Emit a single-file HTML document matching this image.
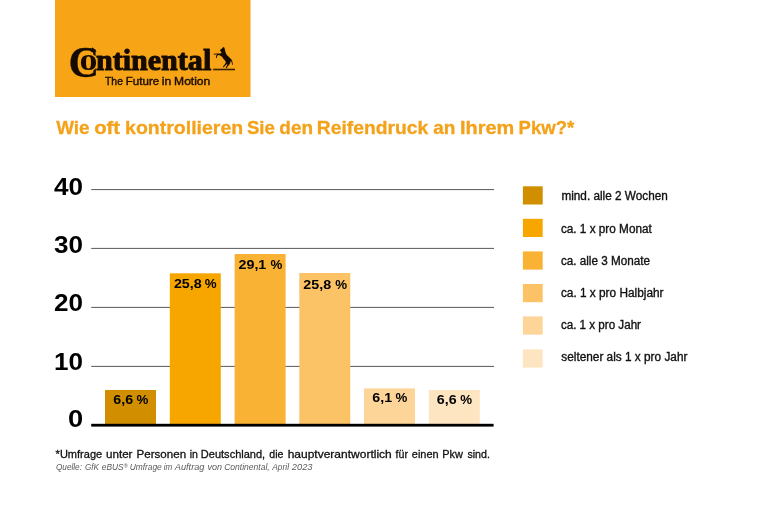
<!DOCTYPE html>
<html lang="de">
<head>
<meta charset="utf-8">
<title>Wie oft kontrollieren Sie den Reifendruck an Ihrem Pkw?</title>
<style>
html,body{margin:0;padding:0;background:#fff;}
body{width:768px;height:513px;overflow:hidden;font-family:"Liberation Sans",sans-serif;}
svg{display:block;}
.sans{font-family:"Liberation Sans",sans-serif;}
.serif{font-family:"Liberation Serif",serif;}
.b{font-weight:bold;}
</style>
</head>
<body>
<svg width="768" height="513" viewBox="0 0 768 513">
<rect x="0" y="0" width="768" height="513" fill="#ffffff"/>

<!-- logo box -->
<g id="logo">
<rect x="55" y="0" width="195.5" height="97" fill="#F7A516"/>
<text class="serif b" fill="#140a00" stroke="#140a00" stroke-linejoin="round"><tspan x="68.4" y="77.2" font-size="43.6" stroke-width="0.3" textLength="30.6" lengthAdjust="spacingAndGlyphs">C</tspan><tspan x="79.4" y="69.9" font-size="32" stroke="#F7A516" stroke-width="2.6" paint-order="stroke" textLength="18" lengthAdjust="spacingAndGlyphs">o</tspan><tspan x="95.9" y="69.5" font-size="30.2" stroke-width="1" textLength="115.4" lengthAdjust="spacingAndGlyphs">ntinental</tspan></text>
<path d="M92.3 47.2 L96.6 51.6 L91.2 52.2 Z" fill="#140a00"/>
<!-- horse -->
<g fill="#140a00">
<rect x="213.2" y="68.7" width="21.8" height="1.6" fill="#3a2200"/>
<path d="M223.3 47 L224.3 47.6 L225 50 L225.6 52.6 L226.6 54.8 L228.4 56.6 L230.4 58.4 L231.6 59.8 L232.2 61 L232.9 64.8 L232.3 64.9 L231.4 61.6 L230.9 60.8 L230.4 62.6 L229.4 64.4 L227.6 66.4 L226.6 68.2 L225.6 68 L226.6 66 L227.4 64.6 L226.6 64.2 L224.8 66 L223.6 67.4 L222.9 66.8 L224.6 64.6 L225.8 62.8 L225.4 61 L223.6 59 L221.8 56.6 L219.6 55.2 L218.2 55 L217.2 56 L216.8 57.9 L216 57.7 L216.2 55.6 L217.4 54.4 L213.7 54.5 L213.6 53.7 L217.6 53.5 L220.8 53.6 L221.6 52.6 L220.9 51.4 L219.9 50.5 L220.6 49.6 L222 48.6 Z"/>
</g>
<text id="tag" class="sans" y="84.6" font-size="10.6" fill="#1e0e00" stroke="#1e0e00" stroke-width="0.4"><tspan x="105.0" textLength="17.95" lengthAdjust="spacingAndGlyphs">The</tspan> <tspan x="125.83" textLength="33.35" lengthAdjust="spacingAndGlyphs">Future</tspan> <tspan x="161.88" textLength="9.49" lengthAdjust="spacingAndGlyphs">in</tspan> <tspan x="174.09" textLength="36.21" lengthAdjust="spacingAndGlyphs">Motion</tspan></text>
</g>

<!-- title -->
<text id="title" class="sans b" y="133.8" font-size="19" fill="#F4A21A" stroke="#F4A21A" stroke-width="0.3"><tspan x="56.21" textLength="33.33" lengthAdjust="spacingAndGlyphs">Wie</tspan> <tspan x="94.24" textLength="25.90" lengthAdjust="spacingAndGlyphs">oft</tspan> <tspan x="125.11" textLength="118.07" lengthAdjust="spacingAndGlyphs">kontrollieren</tspan> <tspan x="246.90" textLength="28.01" lengthAdjust="spacingAndGlyphs">Sie</tspan> <tspan x="279.32" textLength="33.72" lengthAdjust="spacingAndGlyphs">den</tspan> <tspan x="316.84" textLength="111.40" lengthAdjust="spacingAndGlyphs">Reifendruck</tspan> <tspan x="433.27" textLength="22.18" lengthAdjust="spacingAndGlyphs">an</tspan> <tspan x="459.95" textLength="54.30" lengthAdjust="spacingAndGlyphs">Ihrem</tspan> <tspan x="518.62" textLength="55.60" lengthAdjust="spacingAndGlyphs">Pkw?*</tspan></text>

<!-- grid -->
<g stroke="#505050" stroke-width="0.95">
<line x1="91.2" y1="189.6" x2="494" y2="189.6"/>
<line x1="91.2" y1="248.4" x2="494" y2="248.4"/>
<line x1="91.2" y1="307.4" x2="494" y2="307.4"/>
<line x1="91.2" y1="366.4" x2="494" y2="366.4"/>
</g>

<!-- y labels -->
<g class="sans b" font-size="23.5" fill="#000">
<text x="54" y="194.5" textLength="29" lengthAdjust="spacingAndGlyphs">40</text>
<text x="54" y="253.3" textLength="29" lengthAdjust="spacingAndGlyphs">30</text>
<text x="54" y="311.4" textLength="29" lengthAdjust="spacingAndGlyphs">20</text>
<text x="54" y="370.2" textLength="29" lengthAdjust="spacingAndGlyphs">10</text>
<text x="68.1" y="427" textLength="15.2" lengthAdjust="spacingAndGlyphs">0</text>
</g>

<!-- bars -->
<rect x="105" y="390" width="51" height="35" fill="#D18F00"/>
<rect x="169.8" y="273.3" width="51" height="152" fill="#F7A600"/>
<rect x="234.6" y="254" width="51" height="171" fill="#F9B233"/>
<rect x="299.3" y="273" width="51" height="152" fill="#FBC266"/>
<rect x="364" y="388.4" width="51" height="37" fill="#FDD599"/>
<rect x="428.8" y="390" width="51" height="35" fill="#FEE5C2"/>

<!-- axis -->
<rect x="91.2" y="423.8" width="402.4" height="2.8" fill="#000"/>

<!-- bar labels -->
<g class="sans b" font-size="13.3" fill="#000">
<text y="403.9"><tspan x="113.3" textLength="19.8" lengthAdjust="spacingAndGlyphs">6,6</tspan><tspan x="132.8"> %</tspan></text>
<text y="288.1"><tspan x="173.9" textLength="27.8" lengthAdjust="spacingAndGlyphs">25,8</tspan><tspan x="201.10000000000002"> %</tspan></text>
<text y="269.3"><tspan x="238.5" textLength="27.8" lengthAdjust="spacingAndGlyphs">29,1</tspan><tspan x="266.7"> %</tspan></text>
<text y="289.1"><tspan x="303.3" textLength="27.8" lengthAdjust="spacingAndGlyphs">25,8</tspan><tspan x="331.6"> %</tspan></text>
<text y="402.4"><tspan x="372.3" textLength="19.8" lengthAdjust="spacingAndGlyphs">6,1</tspan><tspan x="391.8"> %</tspan></text>
<text y="403.8"><tspan x="436.8" textLength="19.8" lengthAdjust="spacingAndGlyphs">6,6</tspan><tspan x="456.5"> %</tspan></text>
</g>

<!-- legend -->
<rect x="522.9" y="186.3" width="19.8" height="18.2" fill="#D18F00"/>
<rect x="522.9" y="218.8" width="19.8" height="18.2" fill="#F7A600"/>
<rect x="522.9" y="251.4" width="19.8" height="18.2" fill="#F9B233"/>
<rect x="522.9" y="284" width="19.8" height="18.2" fill="#FBC266"/>
<rect x="522.9" y="316.4" width="19.8" height="18.2" fill="#FDD599"/>
<rect x="522.9" y="349.4" width="19.8" height="18.2" fill="#FEE5C2"/>
<g class="sans" font-size="12" fill="#111" stroke="#111" stroke-width="0.35">
<text x="561.4" y="200" textLength="106.4" lengthAdjust="spacingAndGlyphs">mind. alle 2 Wochen</text>
<text x="560.9" y="232.5" textLength="90.9" lengthAdjust="spacingAndGlyphs">ca. 1 x pro Monat</text>
<text x="560.9" y="264.5" textLength="89.1" lengthAdjust="spacingAndGlyphs">ca. alle 3 Monate</text>
<text x="560.9" y="297" textLength="102.6" lengthAdjust="spacingAndGlyphs">ca. 1 x pro Halbjahr</text>
<text x="560.9" y="329.3" textLength="80.1" lengthAdjust="spacingAndGlyphs">ca. 1 x pro Jahr</text>
<text x="561.3" y="360.7" textLength="126.1" lengthAdjust="spacingAndGlyphs">seltener als 1 x pro Jahr</text>
</g>

<!-- footnotes -->
<text id="fn1" class="sans" y="457.6" font-size="11.5" fill="#111" stroke="#111" stroke-width="0.3"><tspan x="55.61" textLength="46.54" lengthAdjust="spacingAndGlyphs">*Umfrage</tspan> <tspan x="105.99" textLength="26.52" lengthAdjust="spacingAndGlyphs">unter</tspan> <tspan x="136.59" textLength="49.54" lengthAdjust="spacingAndGlyphs">Personen</tspan> <tspan x="189.66" textLength="8.24" lengthAdjust="spacingAndGlyphs">in</tspan> <tspan x="200.84" textLength="64.35" lengthAdjust="spacingAndGlyphs">Deutschland,</tspan> <tspan x="269.27" textLength="14.12" lengthAdjust="spacingAndGlyphs">die</tspan> <tspan x="287.66" textLength="104.09" lengthAdjust="spacingAndGlyphs">hauptverantwortlich</tspan> <tspan x="395.59" textLength="12.35" lengthAdjust="spacingAndGlyphs">für</tspan> <tspan x="411.82" textLength="26.78" lengthAdjust="spacingAndGlyphs">einen</tspan> <tspan x="442.25" textLength="20.58" lengthAdjust="spacingAndGlyphs">Pkw</tspan> <tspan x="467.42" textLength="22.5" lengthAdjust="spacingAndGlyphs">sind.</tspan></text>
<text id="fn2" class="sans" y="470.3" font-size="9" font-style="italic" fill="#5a5a5a"><tspan x="55.93" textLength="26.06" lengthAdjust="spacingAndGlyphs">Quelle:</tspan> <tspan x="84.91" textLength="13.95" lengthAdjust="spacingAndGlyphs">GfK</tspan> <tspan x="101.82" textLength="21.88" lengthAdjust="spacingAndGlyphs">eBUS</tspan><tspan font-size="5.5" dy="-2.6">®</tspan><tspan dy="2.6"> </tspan> <tspan x="129.64" textLength="32.15" lengthAdjust="spacingAndGlyphs">Umfrage</tspan> <tspan x="163.71" textLength="8.55" lengthAdjust="spacingAndGlyphs">im</tspan> <tspan x="174.81" textLength="29.71" lengthAdjust="spacingAndGlyphs">Auftrag</tspan> <tspan x="207.4" textLength="14.51" lengthAdjust="spacingAndGlyphs">von</tspan> <tspan x="224.13" textLength="45.61" lengthAdjust="spacingAndGlyphs">Continental,</tspan> <tspan x="272.27" textLength="16.75" lengthAdjust="spacingAndGlyphs">April</tspan> <tspan x="291.8" textLength="20.72" lengthAdjust="spacingAndGlyphs">2023</tspan></text>
</svg>
</body>
</html>
